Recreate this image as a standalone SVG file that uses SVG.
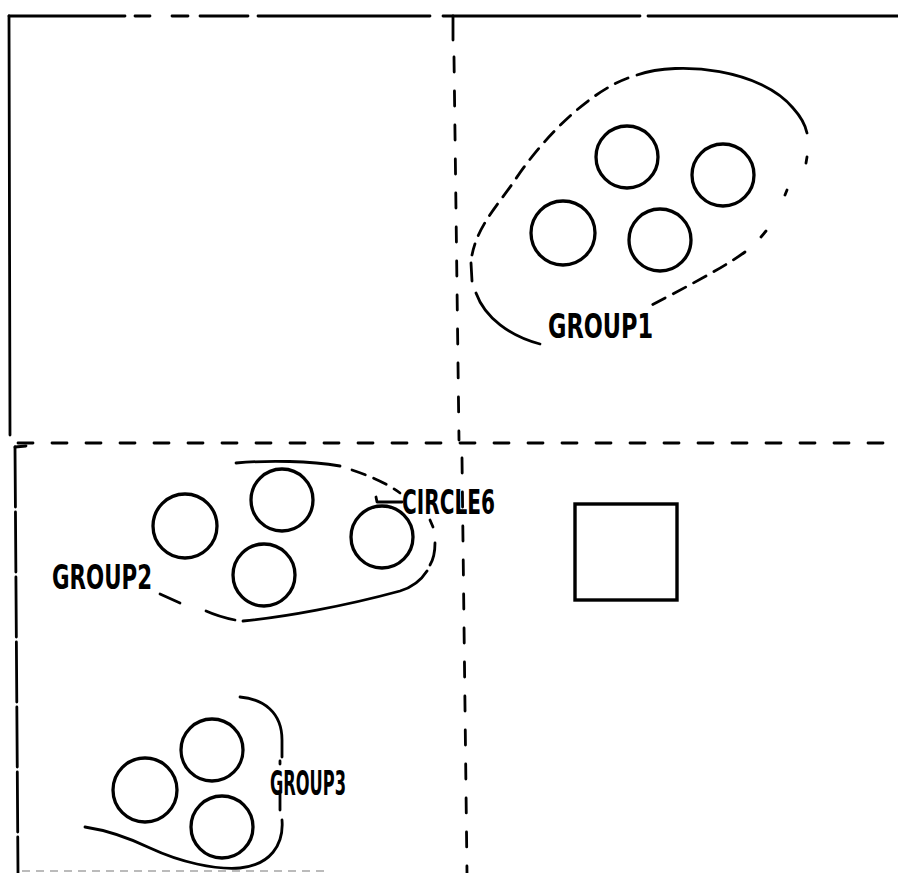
<svg xmlns="http://www.w3.org/2000/svg" width="898" height="873" viewBox="0 0 898 873">
<style>
.bg{fill:#fff}
.ln{fill:none;stroke:#000;stroke-width:2.8;stroke-linecap:round;stroke-linejoin:round}
.dsh{stroke-dasharray:15 19}
.dsh2{stroke-dasharray:14 9}
.c{fill:none;stroke:#000;stroke-width:3.3}
.lbl{font-family:"DejaVu Sans Condensed","Liberation Sans Narrow","DejaVu Sans",sans-serif;font-size:33px;font-weight:bold;fill:#000}
</style>
<rect class="bg" x="0" y="0" width="898" height="873"/>
<g id="frame">
  <path class="ln" d="M9,16 L125,16 M135,16 L150,16 M172,16 L188,16 M200,16 L248,16 M258,16 L430,16 M443,16 L640,16 M648,16 L898,16"/>
  <path class="ln" d="M9,16 L10,435"/>
  <path class="ln" d="M453,16 L453,40"/>
  <path class="ln dsh" d="M454,57 L459,440"/>
  <path class="ln dsh" d="M18,443 L898,443"/>
  <path class="ln" d="M15,447 L26,446"/>
  <path class="ln" style="stroke-dasharray:60 5" d="M15,447 L18,873"/>
  <path class="ln dsh" d="M462,458 L467,873"/>
  <path fill="none" stroke="#bbb" stroke-width="2" stroke-dasharray="8 6" d="M22,871 L330,871"/>
</g>
<g id="group1">
  <circle class="c" cx="627" cy="157" r="31"/>
  <circle class="c" cx="723" cy="175" r="31"/>
  <circle class="c" cx="563" cy="233" r="32"/>
  <circle class="c" cx="660" cy="240" r="31"/>
  <path class="ln" d="M637,75 C680,60 762,70 793,108 C802,118 806,128 807,133"/>
  <path class="ln" d="M807,157 L806,163 M787,190 L785,195 M766,231 L761,237"/>
  <path class="ln dsh2" d="M745,252 C720,270 680,290 648,307"/>
  <path class="ln dsh2" d="M628,78 C590,92 545,135 515,180 C498,205 478,225 472,255"/>
  <path class="ln" d="M471,263 L472,281"/>
  <path class="ln" d="M476,293 C485,318 510,336 540,344"/>
  <text class="lbl" x="548" y="338" textLength="105" lengthAdjust="spacingAndGlyphs">GROUP1</text>
</g>
<g id="group2">
  <circle class="c" cx="185" cy="526" r="32"/>
  <circle class="c" cx="282" cy="500" r="31"/>
  <circle class="c" cx="264" cy="575" r="31"/>
  <path class="ln" d="M236,463 C270,460 310,461 340,466"/>
  <path class="ln dsh2" d="M352,470 C370,476 388,484 400,493"/>
  <path class="ln" d="M430,520 L433,527"/>
  <path class="ln" d="M435,543 C435,553 433,560 430,565"/>
  <path class="ln" d="M427,571 C420,582 410,588 400,591 C345,606 285,617 243,621"/>
  <path class="ln" d="M235,620 C225,618 215,615 206,611 M180,603 L160,594"/>
  <text class="lbl" x="52" y="589" textLength="100" lengthAdjust="spacingAndGlyphs">GROUP2</text>
</g>
<g id="circle6">
  <circle class="c" cx="382" cy="537" r="31"/>
  <path class="ln" d="M376,497 L377,502 L402,502"/>
  <text class="lbl" x="402" y="514" textLength="93" lengthAdjust="spacingAndGlyphs">CIRCLE6</text>
</g>
<g id="group3">
  <circle class="c" cx="212" cy="750" r="31"/>
  <circle class="c" cx="145" cy="790" r="32"/>
  <circle class="c" cx="222" cy="827" r="31"/>
  <path class="ln" d="M240,697 C263,699 282,712 282,740 L282,757"/>
  <path class="ln" d="M280,761 L280,764 M280,793 L280,810"/>
  <path class="ln" d="M282,820 C284,845 270,865 240,868 C215,870 180,862 150,848 C125,836 105,830 85,827"/>
  <text class="lbl" x="270" y="795" textLength="76" lengthAdjust="spacingAndGlyphs">GROUP3</text>
</g>
<g id="square">
  <rect x="575" y="504" width="102" height="96" fill="none" stroke="#000" stroke-width="3.4"/>
</g>
</svg>
